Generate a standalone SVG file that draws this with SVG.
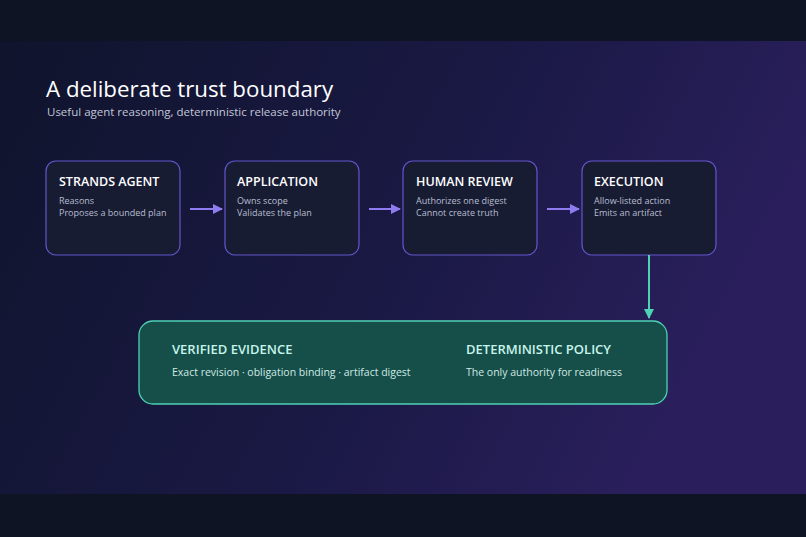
<svg xmlns="http://www.w3.org/2000/svg" width="806" height="537" viewBox="0 0 806 537">
<defs>
<linearGradient id="bg" x1="0" y1="0" x2="1" y2="0.3">
<stop offset="0" stop-color="#10142c"/><stop offset="0.6" stop-color="#1a1945"/><stop offset="1" stop-color="#2a1f5c"/>
</linearGradient>
<marker id="ap" markerWidth="10" markerHeight="10" refX="9" refY="5" orient="auto" markerUnits="userSpaceOnUse"><path d="M0,0 L10,5 L0,10 Z" fill="#8f7cf0"/></marker>
<marker id="at" markerWidth="10" markerHeight="10" refX="9" refY="5" orient="auto" markerUnits="userSpaceOnUse"><path d="M0,0 L10,5 L0,10 Z" fill="#4fd1b5"/></marker>
<style>
.n{fill:#171c33;stroke:#6454cc;stroke-width:1.2}
.h{font-family:"Open Sans","Noto Sans",sans-serif;font-size:12.5px;fill:#ffffff;font-weight:600}
.s{font-family:"Open Sans","Noto Sans",sans-serif;font-size:9px;fill:#b9bdd0}
.gh{font-family:"Open Sans","Noto Sans",sans-serif;font-size:13px;fill:#c8f5ea;font-weight:600}
.gs{font-family:"Open Sans","Noto Sans",sans-serif;font-size:10.5px;fill:#cfe9e2}
</style>
</defs>
<rect width="806" height="537" fill="#0f1424"/>
<rect y="41" width="806" height="453" fill="url(#bg)"/>
<text x="46" y="97" font-family="'Open Sans','Noto Sans',sans-serif" font-size="22.3" font-weight="500" fill="#ffffff">A deliberate trust boundary</text>
<text x="47" y="116" font-family="'Open Sans','Noto Sans',sans-serif" font-size="11.5" fill="#c3c6d8">Useful agent reasoning, deterministic release authority</text>
<g id="n1"><rect class="n" x="46" y="161" width="134" height="94" rx="10"/><text class="h" x="59" y="186">STRANDS AGENT</text><text class="s" x="59" y="204">Reasons</text><text class="s" x="59" y="216">Proposes a bounded plan</text></g>
<g id="n2"><rect class="n" x="225" y="161" width="134" height="94" rx="10"/><text class="h" x="237" y="186">APPLICATION</text><text class="s" x="237" y="204">Owns scope</text><text class="s" x="237" y="216">Validates the plan</text></g>
<g id="n3"><rect class="n" x="403" y="161" width="134" height="94" rx="10"/><text class="h" x="416" y="186">HUMAN REVIEW</text><text class="s" x="416" y="204">Authorizes one digest</text><text class="s" x="416" y="216">Cannot create truth</text></g>
<g id="n4"><rect class="n" x="582" y="161" width="134" height="94" rx="10"/><text class="h" x="594" y="186">EXECUTION</text><text class="s" x="594" y="204">Allow-listed action</text><text class="s" x="594" y="216">Emits an artifact</text></g>
<g id="n5"><rect x="139" y="321" width="528" height="83" rx="14" fill="#164f4a" stroke="#4fd1b5" stroke-width="1.3"/>
<text class="gh" x="172" y="354">VERIFIED EVIDENCE</text><text class="gs" x="172" y="376">Exact revision · obligation binding · artifact digest</text>
<text class="gh" x="466" y="354">DETERMINISTIC POLICY</text><text class="gs" x="466" y="376">The only authority for readiness</text></g>
<g id="connectors" stroke-width="2">
<line x1="190" y1="209" x2="222" y2="209" stroke="#8f7cf0" marker-end="url(#ap)"/>
<line x1="369" y1="209" x2="400" y2="209" stroke="#8f7cf0" marker-end="url(#ap)"/>
<line x1="547" y1="209" x2="579" y2="209" stroke="#8f7cf0" marker-end="url(#ap)"/>
<line x1="649" y1="255" x2="649" y2="318" stroke="#4fd1b5" marker-end="url(#at)"/>
</g>
</svg>
